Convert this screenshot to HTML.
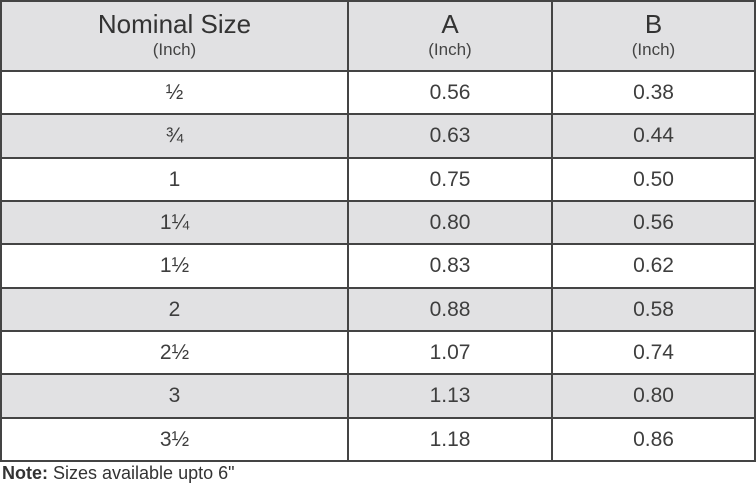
<!DOCTYPE html>
<html><head><meta charset="utf-8"><style>
body{margin:0;width:756px;height:493px;background:#fff;font-family:"Liberation Sans",sans-serif;color:#3a3a3a;position:relative;overflow:hidden}
.cell{position:absolute;box-sizing:border-box;text-align:center}
.h{background:#e1e1e3}
.g{background:#e1e1e3}
.line{position:absolute;background:#444}
.big{font-size:26px;line-height:27px;color:#333}
.small{font-size:17px;line-height:20px;color:#444}
.val{font-size:21px;color:#3e3e3e}
</style></head><body>
<div id="tbl"></div>
<div style="position:absolute;left:2px;top:463px;font-size:18px;color:#333"><b style="font-weight:bold">Note:</b> Sizes available upto 6"</div>
<script>
const sizes=["½","¾","1","1¼","1½","2","2½","3","3½"];
const colA=["0.56","0.63","0.75","0.80","0.83","0.88","1.07","1.13","1.18"];
const colB=["0.38","0.44","0.50","0.56","0.62","0.58","0.74","0.80","0.86"];
const t=document.getElementById('tbl');
const xs=[1,348,552,755];
const headTop=1,headBot=71,rowH=(461-71)/9;
function cell(x0,x1,y0,y1,cls,html,name){
 const d=document.createElement('div');
 d.className='cell '+cls;
 d.style.left=x0+'px';d.style.top=y0+'px';d.style.width=(x1-x0)+'px';d.style.height=(y1-y0)+'px';
 d.innerHTML=html;
 
 
 t.appendChild(d);return d;
}
const heads=["Nominal Size","A","B"];
const hn=["header-nominal-size","header-a","header-b"];
for(let c=0;c<3;c++){
 cell(xs[c],xs[c+1],headTop,headBot,'h','<div class="big" style="padding-top:10px">'+heads[c]+'</div><div class="small" style="margin-top:2px">(Inch)</div>',hn[c]);
}
for(let r=0;r<9;r++){
 const y0=headBot+r*rowH,y1=y0+rowH;
 const cls=r%2?'g':'';
 const vals=[sizes[r],colA[r],colB[r]];
 const nm=['size','a-value','b-value'];
 for(let c=0;c<3;c++){
  const d=cell(xs[c],xs[c+1],y0,y1,cls,'<span class="val">'+vals[c]+'</span>',nm[c]+'-row-'+(r+1));
  d.style.lineHeight=(rowH)+'px';
 }
}
function line(x,y,w,h,name){
 const d=document.createElement('div');d.className='line';
 d.style.left=x+'px';d.style.top=y+'px';d.style.width=w+'px';d.style.height=h+'px';
 
 
 t.appendChild(d);
}
line(0,0,756,2,'border-top');
for(let r=0;r<=9;r++) line(0,Math.round(headBot+r*rowH)-1,756,2,'row-border');
for(const x of xs) line(x-1,0,2,462,'col-border');
</script>
</body></html>
